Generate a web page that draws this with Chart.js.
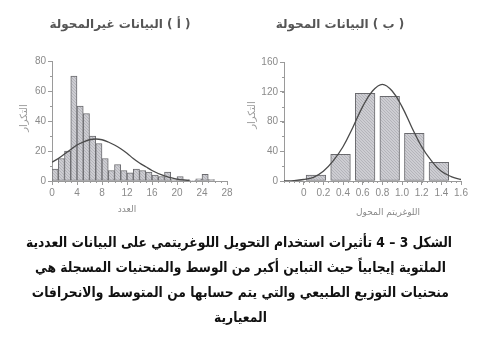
<!DOCTYPE html>
<html lang="ar">
<head>
<meta charset="utf-8">
<script src="https://cdn.jsdelivr.net/npm/chart.js@4/dist/chart.umd.min.js"></script>
<style>
  html, body { margin: 0; padding: 0; background: #fff; }
  body { width: 481px; height: 344px; position: relative; overflow: hidden; font-family: "DejaVu Sans", sans-serif; }
  canvas { position: absolute; top: 0; }
  .ttl { position: absolute; text-align: center; font-weight: bold; font-size: 12px; color: #555; line-height: 16px; white-space: nowrap; }
  .xt { position: absolute; text-align: center; font-size: 9px; color: #8a8a8a; line-height: 12px; white-space: nowrap; }
  .yt { position: absolute; font-size: 10px; color: #9a9a9a; line-height: 12px; white-space: nowrap; transform: translate(-50%, -50%) rotate(-90deg); }
  .cap { position: absolute; left: 0; width: 481px; top: 230px; text-align: center; font-size: 14px; line-height: 25px; color: #111; font-weight: bold; white-space: nowrap; transform: scaleX(0.88); transform-origin: 240px 0; }
</style>
</head>
<body>
<canvas id="rawChart" width="240" height="220" style="left:0"></canvas>
<canvas id="logChart" width="241" height="220" style="left:240px"></canvas>

<div class="ttl" dir="rtl" style="left:0;width:240px;top:16px">( أ ) البيانات غيرالمحولة</div>
<div class="ttl" dir="rtl" style="left:240px;width:200px;top:16px">( ب ) البيانات المحولة</div>

<div class="yt" dir="rtl" style="left:24px;top:118px">التكرار</div>
<div class="yt" dir="rtl" style="left:252px;top:115px">التكرار</div>

<div class="xt" dir="rtl" style="left:77px;width:100px;top:203px">العدد</div>
<div class="xt" dir="rtl" style="left:338px;width:100px;top:206px">اللوغريتم المحول</div>

<div class="cap" dir="rtl">الشكل 3 – 4 تأثيرات استخدام التحويل اللوغريتمي على البيانات العددية<br>الملتوية إيجابياً حيث التباين أكبر من الوسط والمنحنيات المسجلة هي<br>منحنيات التوزيع الطبيعي والتي يتم حسابها من المتوسط والانحرافات<br>المعيارية</div>

<script>
// (a) raw counts: one bar per unit-wide bin starting at 0
const rawBinWidth = 1;
const rawCounts = [8, 15, 20, 70, 50, 45, 30, 25, 15, 7, 11, 7, 5.5, 8, 7, 6, 4, 3, 6, 1, 3, 1, 0.5, 1.5, 4.5, 1];
// fitted normal curve over the raw counts
const rawCurveX = [0, 1, 2, 3, 4, 5, 6, 7, 8, 9, 10, 11, 12, 13, 14, 15, 16, 17, 18, 19, 20, 21, 22];
const rawCurveY = [12.5, 15, 18, 21, 24, 26, 27.5, 28, 27.5, 26, 24, 21.5, 18.5, 15, 12, 9.5, 7, 5, 3.5, 2.2, 1.3, 0.7, 0.3];
const rawXTicks = [0, 4, 8, 12, 16, 20, 24, 28];
const rawYTicks = [0, 20, 40, 60, 80];

// (b) log-transformed counts: bins of width 0.25 starting at 0
const logBinWidth = 0.25;
const logCounts = [8, 36, 118, 114, 64, 25];
const logCurveX = [-0.2, -0.1, 0, 0.1, 0.2, 0.3, 0.4, 0.5, 0.6, 0.7, 0.8, 0.9, 1.0, 1.1, 1.2, 1.3, 1.4, 1.5, 1.6];
const logCurveY = [0.2, 0.6, 2, 5, 13, 27, 46, 72, 100, 121, 130, 121, 100, 72, 46, 27, 13, 6, 2];
const logXTicks = [0, 0.2, 0.4, 0.6, 0.8, 1.0, 1.2, 1.4, 1.6];
const logXTickLabels = ['0', '0.2', '0.4', '0.6', '0.8', '1.0', '1.2', '1.4', '1.6'];
const logYTicks = [0, 40, 80, 120, 160];

const AXIS = '#9a9a9a';
const TICK_TEXT = '#8a8a8a';

// fine grey texture for the histogram bars
function barFill() {
  const c = document.createElement('canvas');
  c.width = 3; c.height = 3;
  const g = c.getContext('2d');
  g.fillStyle = '#cdcdd2';
  g.fillRect(0, 0, 3, 3);
  g.fillStyle = '#b4b4ba';
  g.fillRect(0, 0, 1, 1);
  g.fillRect(1, 1, 1, 1);
  g.fillRect(2, 2, 1, 1);
  return g.createPattern(c, 'repeat');
}

// short unlabeled ticks between the labelled ones
const minorTicks = {
  id: 'minorTicks',
  afterDraw(chart, args, opts) {
    const ctx = chart.ctx;
    const xs = chart.scales.x, ys = chart.scales.y;
    ctx.save();
    ctx.strokeStyle = AXIS;
    ctx.lineWidth = 1;
    ctx.beginPath();
    const nx = Math.round((xs.max - xs.min) / opts.xStep);
    for (let i = 0; i <= nx; i++) {
      const px = Math.round(xs.getPixelForValue(xs.min + i * opts.xStep)) + 0.5;
      ctx.moveTo(px, xs.top);
      ctx.lineTo(px, xs.top + opts.len);
    }
    const ny = Math.round((ys.max - ys.min) / opts.yStep);
    for (let i = 0; i <= ny; i++) {
      const py = Math.round(ys.getPixelForValue(ys.min + i * opts.yStep)) + 0.5;
      ctx.moveTo(ys.right, py);
      ctx.lineTo(ys.right - opts.len, py);
    }
    ctx.stroke();
    ctx.restore();
  }
};

function histogram(id, cfg) {
  const bars = cfg.counts.map((c, i) => ({ x: (i + 0.5) * cfg.binWidth, y: c }));
  const curve = cfg.curveX.map((x, i) => ({ x: x, y: cfg.curveY[i] }));
  const tickFont = { family: '"Liberation Sans", Arial, sans-serif', size: 10 };
  return new Chart(document.getElementById(id), {
    type: 'bar',
    data: {
      datasets: [
        {
          type: 'line',
          data: curve,
          borderColor: '#4a4a4a',
          borderWidth: 1.3,
          pointRadius: 0,
          tension: 0.4,
          fill: false,
          order: 0
        },
        {
          data: bars,
          backgroundColor: barFill(),
          borderColor: '#6a6a6e',
          borderWidth: 1,
          borderSkipped: false,
          barPercentage: 1,
          categoryPercentage: 1,
          order: 1
        }
      ]
    },
    options: {
      responsive: false,
      animation: false,
      layout: { padding: cfg.padding },
      plugins: {
        legend: { display: false },
        tooltip: { enabled: false },
        minorTicks: { xStep: cfg.xMinor, yStep: cfg.yMinor, len: 2 }
      },
      scales: {
        x: {
          type: 'linear',
          min: cfg.xMin,
          max: cfg.xMax,
          offset: false,
          afterBuildTicks: s => { s.ticks = cfg.xTicks.map(v => ({ value: v })); },
          afterFit: s => { s.height = cfg.xHeight; },
          ticks: {
            autoSkip: false,
            maxRotation: 0,
            padding: 2,
            color: TICK_TEXT,
            font: tickFont,
            callback: (v, i) => cfg.xLabels ? cfg.xLabels[i] : String(v)
          },
          grid: { display: true, offset: false, drawOnChartArea: false, drawTicks: true, tickLength: 4, color: AXIS },
          border: { display: true, color: AXIS }
        },
        y: {
          type: 'linear',
          min: cfg.yTicks[0],
          max: cfg.yTicks[cfg.yTicks.length - 1],
          afterBuildTicks: s => { s.ticks = cfg.yTicks.map(v => ({ value: v })); },
          afterFit: s => { s.width = cfg.yWidth; },
          ticks: { padding: 2, color: TICK_TEXT, font: tickFont },
          grid: { display: true, drawOnChartArea: false, drawTicks: true, tickLength: 4, color: AXIS },
          border: { display: true, color: AXIS }
        }
      }
    },
    plugins: [minorTicks]
  });
}

histogram('rawChart', {
  counts: rawCounts, binWidth: rawBinWidth,
  curveX: rawCurveX, curveY: rawCurveY,
  xMin: 0, xMax: 28, xTicks: rawXTicks, yTicks: rawYTicks,
  xMinor: 1, yMinor: 10,
  padding: { left: 18, right: 13, top: 61, bottom: 5 },
  yWidth: 34, xHeight: 34
});

histogram('logChart', {
  counts: logCounts, binWidth: logBinWidth,
  curveX: logCurveX, curveY: logCurveY,
  xMin: -0.2, xMax: 1.6, xTicks: logXTicks, xLabels: logXTickLabels, yTicks: logYTicks,
  xMinor: 0.05, yMinor: 20,
  padding: { left: 6, right: 20, top: 62, bottom: 5 },
  yWidth: 38, xHeight: 34
});
</script>
</body>
</html>
